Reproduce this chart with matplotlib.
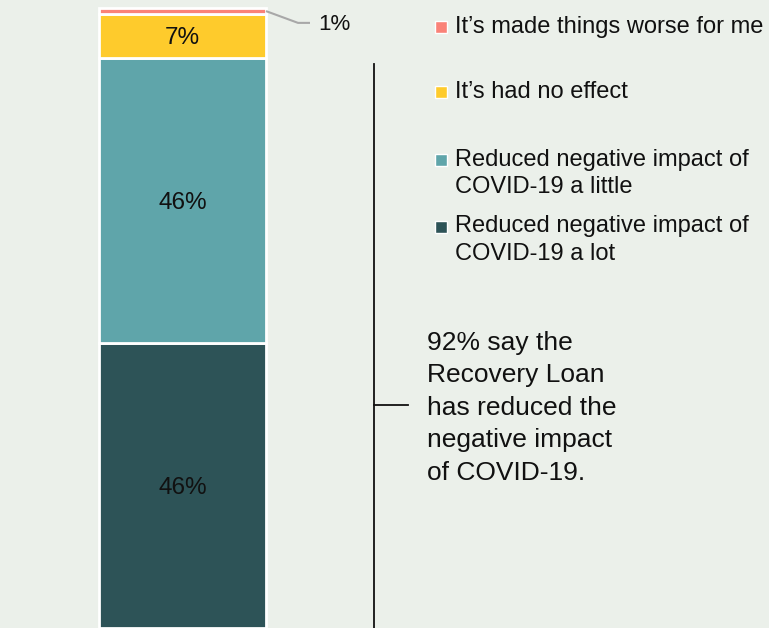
import matplotlib
matplotlib.use("Agg")
import matplotlib.pyplot as plt
import numpy as np

# Datos de la barra apilada (de abajo hacia arriba)
categorias = ["Reduced negative impact of\nCOVID-19 a lot",
              "Reduced negative impact of\nCOVID-19 a little",
              "It\u2019s had no effect",
              "It\u2019s made things worse for me"]
valores = [46, 46, 7, 1]
etiquetas = ["46%", "46%", "7%", "1%"]
colores = ["#2d5357", "#5fa5aa", "#fecb2c", "#fa8278"]
nota = "92% say the\nRecovery Loan\nhas reduced the\nnegative impact\nof COVID-19."

plt.rcParams['font.family'] = ['Liberation Sans', 'DejaVu Sans']
fondo = "#ebf0ea"

W, H = 769, 628
fig = plt.figure(figsize=(W / 100, H / 100), dpi=100, facecolor=fondo)
ax = fig.add_axes([0, 0, 1, 1])
ax.set_facecolor(fondo)
ax.set_xlim(0, W)
escala = 620 / 100  # pixeles por punto porcentual
ax.set_ylim(0, H / escala)
ax.axis("off")

# Barra apilada
base = np.concatenate([[0], np.cumsum(valores)[:-1]])
xb, ancho = 182.5, 167
ax.bar(xb, valores, bottom=base, width=ancho, color=colores,
       edgecolor="white", linewidth=2)

# Etiquetas dentro de la barra
for v, b, t in zip(valores[:3], base[:3], etiquetas[:3]):
    ax.text(xb, b + v / 2, t, ha="center", va="center_baseline", fontsize=17.5,
            color="#111111")

# Conector y etiqueta del 1%
y1 = base[3] + valores[3] / 2
y2 = y1 - 1.9
ax.plot([xb + ancho / 2, 298, 310], [y1, y2, y2], color="#a8a8a8", lw=1.5,
        solid_capstyle="butt")
ax.text(318, y2 + 0.15, etiquetas[3], ha="left", va="center_baseline",
        fontsize=16, color="#111111")

# Corchete del 92%
total = valores[0] + valores[1]
ax.plot([374, 374], [0, total - 1], color="#111111", lw=1.3)
ax.plot([374, 408], [36, 36], color="#111111", lw=1.3)
ax.text(427, 35.5, nota, ha="left", va="center", fontsize=19,
        linespacing=1.45, color="#111111")

# Leyenda manual
ley_y = [240, 173.5, 92, 27]
for t, yp, col in zip(categorias, ley_y, colores):
    yy = (H - yp) / escala
    lineas = t.count("\n")
    ax.plot(441, yy + lineas * 13.5 / escala, marker="s", markersize=8,
            color=col, markeredgecolor="white", markeredgewidth=1)
    ax.text(455, yy, t, ha="left", va="center", fontsize=17,
            linespacing=1.33, color="#111111")

fig.savefig("out.png", dpi=100, facecolor=fondo)
